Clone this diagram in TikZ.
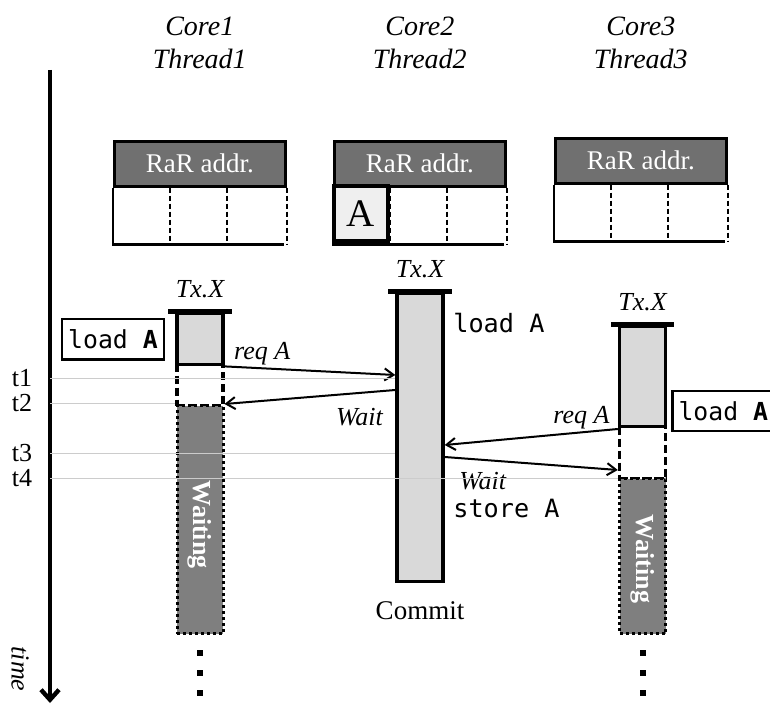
\documentclass[tikz,border=0pt]{standalone}
\usepackage{fontspec}
\setmainfont{Liberation Serif}
\setmonofont{DejaVu Sans Mono}
\usetikzlibrary{arrows.meta,positioning}
\definecolor{headgray}{HTML}{707070}
\definecolor{txgray}{HTML}{D9D9D9}
\definecolor{waitgray}{HTML}{7F7F7F}
\definecolor{cellgray}{HTML}{EFEFEF}

\begin{document}
\begin{tikzpicture}[x=0.5pt,y=-0.5pt,
core label/.style={align=center,inner sep=0pt,font=\fontsize{14}{16.5}\selectfont\itshape},
rar head/.style={draw,line width=1.3pt,fill=headgray,text=white,minimum width=85.5pt,minimum height=22.5pt,inner sep=0pt,anchor=north west,font=\fontsize{13.5}{16}\selectfont},
cell line/.style={line width=1.3pt},
cell div/.style={line width=0.9pt,dash pattern=on 2.5pt off 1.5pt},
a cell/.style={draw,line width=1.7pt,fill=cellgray,minimum width=27pt,minimum height=27.5pt,inner sep=0pt,font=\fontsize{19.5}{20}\selectfont},
tx box/.style={draw,line width=1.7pt,fill=txgray,minimum width=23pt,inner sep=0pt,anchor=north},
pend box/.style={draw,line width=1.7pt,dash pattern=on 4pt off 2pt,fill=white,minimum width=23pt,inner sep=0pt,anchor=north},
wait box/.style={draw,line width=1.5pt,dash pattern=on 1.5pt off 1.5pt,fill=waitgray,minimum width=23pt,inner sep=0pt,anchor=north},
wait text/.style={rotate=-90,text=white,inner sep=0pt,font=\fontsize{13}{15}\selectfont\bfseries},
cap bar/.style={line width=2.5pt},
tx label/.style={inner sep=0pt,font=\fontsize{13}{15}\selectfont\itshape},
cmd box/.style={draw,line width=1.3pt,minimum width=51pt,minimum height=20pt,inner sep=0pt,font=\fontsize{12.4}{15}\ttfamily},
cmd/.style={inner sep=0pt,anchor=west,font=\fontsize{12.6}{15}\ttfamily},
msg/.style={-{Straight Barb[length=4.5pt,width=6pt]},line width=1pt},
msg label/.style={inner sep=1pt,font=\fontsize{13}{15}\selectfont\itshape},
time axis/.style={-{Straight Barb[length=5pt,width=9pt]},line width=2.2pt},
time line/.style={gray!40,line width=0.5pt},
tick label/.style={inner sep=0pt,font=\fontsize{13}{15}\selectfont},
ell dot/.style={fill,minimum size=3pt,inner sep=0pt}]
\useasboundingbox (0,0) rectangle (770,705);

% RaR address tables and core names
\foreach \i/\x/\y in {1/113/140,2/333/140,3/554/137}{
  \node[rar head] (rar\i) at (\x,\y) {RaR addr.};
  \draw[cell line] (rar\i.south west) -- ++(0,57) -- ++(171,0);
  \draw[cell div] (rar\i.south east) -- ++(0,57);
  \foreach \k in {1,2}
    \draw[cell div] (rar\i.south west) ++(57*\k,0) -- ++(0,57);
  \node[core label] (core\i) at (rar\i.north |- 0,43) {Core\i\\Thread\i};
}
\node[a cell] (cellA) at (361,213.5) {A};

% Thread1
\node[pend box,minimum height=20.5pt] (c1p) at (200,363) {};
\node[tx box,minimum height=25.5pt] (c1a) at (200,312) {};
\node[wait box,minimum height=114pt] (c1w) at (200,404) {};
\draw[cap bar] ([xshift=-3.5pt]c1a.north west) -- ([xshift=3.5pt]c1a.north east);
\node[tx label,above=7pt of c1a.north] (c1tx) {Tx.X};
\node[wait text] (c1wt) at ([yshift=-2.5pt]c1w.center) {Waiting};
\node[cmd box,left=5pt of c1a] (c1ld) {load \textbf{A}};
\foreach \k/\y in {0/653,1/673,2/693}
  \node[ell dot] (c1e\k) at (c1w.south |- 0,\y) {};

% Thread2
\node[tx box,minimum height=144pt] (c2a) at (420,292) {};
\draw[cap bar] ([xshift=-3.5pt]c2a.north west) -- ([xshift=3.5pt]c2a.north east);
\node[tx label,above=7pt of c2a.north] (c2tx) {Tx.X};
\node[cmd] (c2ld) at (453,323) {load A};
\node[cmd] (c2st) at (453,508) {store A};
\node[inner sep=0pt,below=9pt of c2a,font=\fontsize{13.5}{15}\selectfont] (c2cm) {Commit};

% Thread3
\node[pend box,minimum height=26pt] (c3p) at (642.5,425) {};
\node[tx box,minimum height=50pt] (c3a) at (642.5,325) {};
\node[wait box,minimum height=77.5pt] (c3w) at (642.5,477) {};
\draw[cap bar] ([xshift=-3.5pt]c3a.north west) -- ([xshift=3.5pt]c3a.north east);
\node[tx label,above=7pt of c3a.north] (c3tx) {Tx.X};
\node[wait text] (c3wt) at ([yshift=-1.5pt]c3w.center) {Waiting};
\node[cmd box,anchor=west] (c3ld) at (671,411) {load \textbf{A}};
\foreach \k/\y in {0/653,1/673,2/693}
  \node[ell dot] (c3e\k) at (c3w.south |- 0,\y) {};

% messages
\draw[msg] (c1a.south east) -- node[msg label,pos=0.22,above] (lreq1) {req A} (c2a.west |- 0,375);
\draw[msg] (c2a.west |- 0,390) -- node[msg label,pos=0.21,below=6pt] (lwait1) {Wait} (c1w.north east);
\draw[msg] (c3a.south west |- 0,429) -- node[msg label,pos=0.21,above] (lreq2) {req A} (c2a.east |- 0,445);
\draw[msg] (c2a.east |- 0,457) -- node[msg label,pos=0.22,below=4.5pt] (lwait2) {Wait} (c3p.west |- 0,470);

% time axis
\coordinate (axtop) at (50,70);
\coordinate (axbot) at (50,703);
\draw[time axis] (axtop) -- (axbot);
\node[tick label,rotate=-90,font=\fontsize{13}{15}\selectfont\itshape] (timel) at (20,669) {time};
\foreach \n/\y in {1/378,2/403,3/453,4/478}
  \node[tick label] (t\n) at (22,\y) {t\n};
\draw[time line] (axtop |- t1) -- (c2a.west |- t1);
\draw[time line] (axtop |- t2) -- (c1p.west |- t2);
\draw[time line] (axtop |- t3) -- (c2a.west |- t3);
\draw[time line] (axtop |- t4) -- (c3p.west |- t4);
\end{tikzpicture}
\end{document}
